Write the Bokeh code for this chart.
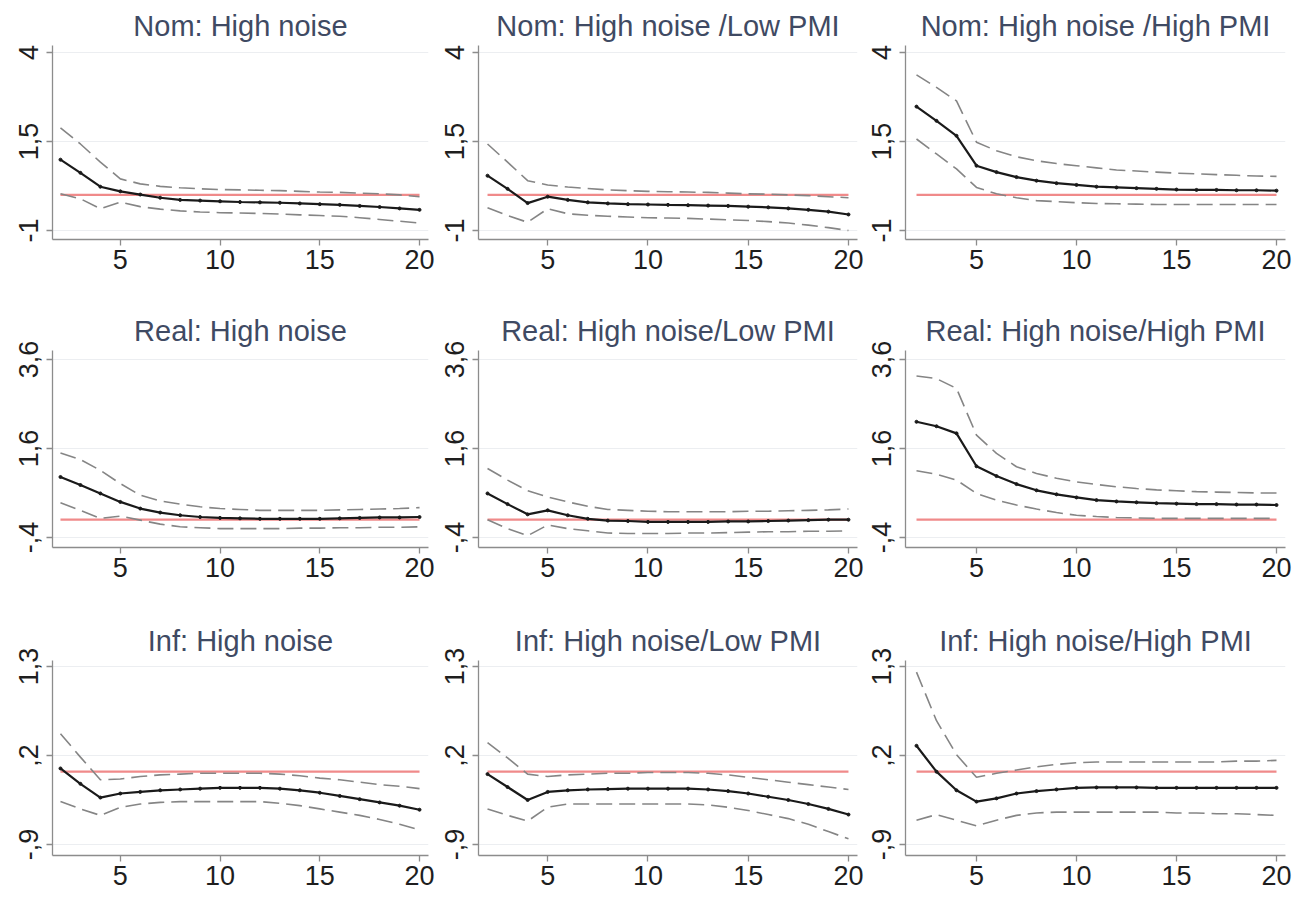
from bokeh.plotting import figure
from bokeh.layouts import row, column
from bokeh.models import Range1d, FixedTicker
from bokeh.embed import file_html
from bokeh.resources import INLINE

# ---------------- data ----------------
X = list(range(2, 21))
REF = 0.0

TITLES = [
    ["Nom: High noise", "Nom: High noise /Low PMI", "Nom: High noise /High PMI"],
    ["Real: High noise", "Real: High noise/Low PMI", "Real: High noise/High PMI"],
    ["Inf: High noise", "Inf: High noise/Low PMI", "Inf: High noise/High PMI"],
]

Y_TICKS = [[-1, 1.5, 4], [-0.4, 1.6, 3.6], [-0.9, 0.2, 1.3]]
Y_LABELS = [["-1", "1,5", "4"], ["-,4", "1,6", "3,6"], ["-,9", ",2", "1,3"]]
X_TICKS = [5, 10, 15, 20]

# Nominal
nom_hn_mean = [0.99, 0.62, 0.23, 0.10, 0.01, -0.08, -0.14, -0.16, -0.18, -0.20, -0.21, -0.22, -0.24, -0.26, -0.28, -0.31, -0.34, -0.38, -0.42]
nom_hn_up = [1.88, 1.43, 0.92, 0.45, 0.31, 0.24, 0.20, 0.17, 0.15, 0.14, 0.13, 0.12, 0.10, 0.08, 0.07, 0.05, 0.03, 0.00, -0.05]
nom_hn_lo = [0.03, -0.11, -0.39, -0.20, -0.33, -0.40, -0.45, -0.48, -0.50, -0.51, -0.52, -0.54, -0.56, -0.58, -0.60, -0.64, -0.69, -0.74, -0.79]

nom_low_mean = [0.54, 0.17, -0.23, -0.05, -0.14, -0.21, -0.24, -0.26, -0.27, -0.28, -0.29, -0.30, -0.31, -0.33, -0.35, -0.38, -0.42, -0.47, -0.55]
nom_low_up = [1.43, 0.92, 0.40, 0.28, 0.22, 0.18, 0.14, 0.12, 0.10, 0.09, 0.08, 0.07, 0.05, 0.03, 0.02, 0.00, -0.02, -0.05, -0.08]
nom_low_lo = [-0.36, -0.58, -0.77, -0.39, -0.53, -0.57, -0.60, -0.62, -0.64, -0.65, -0.66, -0.68, -0.70, -0.72, -0.75, -0.79, -0.85, -0.92, -1.00]

nom_high_mean = [2.48, 2.08, 1.66, 0.82, 0.64, 0.50, 0.40, 0.33, 0.28, 0.23, 0.21, 0.19, 0.17, 0.15, 0.14, 0.14, 0.13, 0.13, 0.12]
nom_high_up = [3.37, 3.02, 2.64, 1.48, 1.24, 1.07, 0.96, 0.88, 0.82, 0.76, 0.70, 0.67, 0.64, 0.61, 0.59, 0.57, 0.55, 0.53, 0.52]
nom_high_lo = [1.57, 1.15, 0.73, 0.21, 0.03, -0.08, -0.16, -0.19, -0.22, -0.24, -0.25, -0.26, -0.27, -0.27, -0.27, -0.27, -0.27, -0.27, -0.27]

# Real
real_hn_mean = [0.96, 0.78, 0.59, 0.40, 0.25, 0.16, 0.10, 0.06, 0.04, 0.03, 0.02, 0.02, 0.02, 0.02, 0.03, 0.04, 0.05, 0.05, 0.06]
real_hn_up = [1.50, 1.35, 1.11, 0.81, 0.55, 0.42, 0.35, 0.29, 0.25, 0.23, 0.21, 0.21, 0.21, 0.21, 0.22, 0.23, 0.24, 0.25, 0.27]
real_hn_lo = [0.38, 0.21, 0.03, 0.08, -0.01, -0.10, -0.16, -0.18, -0.20, -0.20, -0.20, -0.20, -0.19, -0.19, -0.18, -0.18, -0.17, -0.17, -0.16]

real_low_mean = [0.59, 0.35, 0.12, 0.21, 0.10, 0.02, -0.02, -0.03, -0.05, -0.05, -0.05, -0.05, -0.04, -0.04, -0.03, -0.02, -0.01, 0.00, 0.00]
real_low_up = [1.15, 0.89, 0.65, 0.51, 0.40, 0.30, 0.23, 0.21, 0.19, 0.18, 0.18, 0.18, 0.18, 0.19, 0.19, 0.20, 0.21, 0.22, 0.24]
real_low_lo = [0.00, -0.20, -0.36, -0.12, -0.20, -0.25, -0.30, -0.31, -0.31, -0.31, -0.30, -0.30, -0.29, -0.28, -0.27, -0.27, -0.26, -0.26, -0.25]

real_high_mean = [2.20, 2.10, 1.94, 1.20, 0.98, 0.80, 0.66, 0.57, 0.50, 0.44, 0.41, 0.39, 0.37, 0.36, 0.35, 0.35, 0.34, 0.34, 0.33]
real_high_up = [3.23, 3.17, 2.95, 1.90, 1.49, 1.19, 1.04, 0.93, 0.85, 0.79, 0.74, 0.70, 0.67, 0.65, 0.63, 0.62, 0.61, 0.60, 0.60]
real_high_lo = [1.10, 1.02, 0.89, 0.59, 0.44, 0.33, 0.24, 0.16, 0.10, 0.07, 0.05, 0.04, 0.03, 0.03, 0.03, 0.03, 0.03, 0.03, 0.03]

# Inflation
inf_hn_mean = [0.04, -0.15, -0.32, -0.27, -0.25, -0.23, -0.22, -0.21, -0.20, -0.20, -0.20, -0.21, -0.23, -0.26, -0.30, -0.34, -0.38, -0.42, -0.47]
inf_hn_up = [0.47, 0.18, -0.10, -0.09, -0.06, -0.04, -0.03, -0.02, -0.02, -0.02, -0.02, -0.03, -0.05, -0.08, -0.10, -0.13, -0.16, -0.18, -0.21]
inf_hn_lo = [-0.37, -0.46, -0.54, -0.44, -0.40, -0.38, -0.37, -0.37, -0.37, -0.37, -0.37, -0.39, -0.42, -0.46, -0.50, -0.54, -0.59, -0.65, -0.72]

inf_low_mean = [-0.03, -0.19, -0.35, -0.25, -0.23, -0.22, -0.215, -0.21, -0.21, -0.21, -0.21, -0.22, -0.24, -0.27, -0.31, -0.35, -0.40, -0.46, -0.53]
inf_low_up = [0.36, 0.17, -0.03, -0.06, -0.04, -0.03, -0.02, -0.02, -0.01, -0.01, -0.01, -0.02, -0.04, -0.07, -0.10, -0.13, -0.16, -0.19, -0.22]
inf_low_lo = [-0.46, -0.54, -0.61, -0.44, -0.40, -0.40, -0.40, -0.40, -0.40, -0.40, -0.40, -0.41, -0.44, -0.48, -0.53, -0.58, -0.65, -0.74, -0.83]

inf_high_mean = [0.32, 0.00, -0.23, -0.37, -0.33, -0.27, -0.24, -0.22, -0.20, -0.195, -0.195, -0.195, -0.20, -0.20, -0.20, -0.20, -0.20, -0.20, -0.20]
inf_high_up = [1.23, 0.63, 0.21, -0.07, -0.02, 0.02, 0.06, 0.09, 0.11, 0.12, 0.12, 0.12, 0.12, 0.12, 0.12, 0.12, 0.13, 0.13, 0.14]
inf_high_lo = [-0.60, -0.53, -0.60, -0.67, -0.60, -0.54, -0.51, -0.50, -0.50, -0.50, -0.50, -0.50, -0.50, -0.51, -0.51, -0.52, -0.52, -0.53, -0.54]

SERIES = [
    [(nom_hn_mean, nom_hn_up, nom_hn_lo), (nom_low_mean, nom_low_up, nom_low_lo), (nom_high_mean, nom_high_up, nom_high_lo)],
    [(real_hn_mean, real_hn_up, real_hn_lo), (real_low_mean, real_low_up, real_low_lo), (real_high_mean, real_high_up, real_high_lo)],
    [(inf_hn_mean, inf_hn_up, inf_hn_lo), (inf_low_mean, inf_low_up, inf_low_lo), (inf_high_mean, inf_high_up, inf_high_lo)],
]

# ---------------- layout / style ----------------
FONT = "Liberation Sans"
COL_W = [436, 430, 436]
COL_BL = [52, 42, 39]
COL_BR = [8, 9, 17]
COL_X = [(1.6, 20.45), (1.55, 20.45), (1.45, 20.45)]
ROW_H = [300, 308, 291]
ROW_BT = [45, 50, 52]
ROW_BB = [61, 61, 44]
ROW_Y = [(-1.253, 4.197), (-0.625, 3.802), (-1.036, 1.374)]

AXIS_COL = "#8c8c8c"
TITLE_COL = "#3f4a63"

rows = []
for r in range(3):
    figs = []
    for c in range(3):
        mean, up, lo = SERIES[r][c]
        p = figure(width=COL_W[c], height=ROW_H[r], output_backend="svg",
                   toolbar_location=None, tools="",
                   x_range=Range1d(*COL_X[c]), y_range=Range1d(*ROW_Y[r]),
                   min_border_left=COL_BL[c], min_border_right=COL_BR[c],
                   min_border_top=ROW_BT[r], min_border_bottom=ROW_BB[r])
        p.outline_line_color = None
        p.background_fill_color = "white"
        p.border_fill_color = "white"

        p.title.text = TITLES[r][c]
        p.title.align = "center"
        p.title.text_font = FONT
        p.title.text_font_size = "29px"
        p.title.text_font_style = "normal"
        p.title.text_color = TITLE_COL
        p.title.standoff = 7

        p.xgrid.visible = False
        p.ygrid.ticker = FixedTicker(ticks=Y_TICKS[r])
        p.ygrid.grid_line_color = "#eceef1"
        p.ygrid.grid_line_width = 1

        p.xaxis.ticker = FixedTicker(ticks=X_TICKS)
        p.yaxis.ticker = FixedTicker(ticks=Y_TICKS[r])
        p.yaxis.major_label_overrides = {t: l for t, l in zip(Y_TICKS[r], Y_LABELS[r])}
        p.yaxis.major_label_orientation = "vertical"
        for ax in (p.xaxis, p.yaxis):
            ax.axis_line_color = AXIS_COL
            ax.axis_line_width = 1.3
            ax.major_tick_line_color = AXIS_COL
            ax.major_tick_line_width = 1.3
            ax.major_tick_out = 6
            ax.major_tick_in = 0
            ax.minor_tick_line_color = None
            ax.major_label_text_font = FONT
            ax.major_label_text_font_size = "27px"
            ax.major_label_text_color = "#1e1e1e"
        p.xaxis.major_label_standoff = 4
        p.yaxis.major_label_standoff = 8

        p.line(X, [REF] * len(X), line_color="#f08a8a", line_width=2.2)
        p.line(X, up, line_color="#858585", line_width=1.6, line_dash="16 7")
        p.line(X, lo, line_color="#858585", line_width=1.6, line_dash="16 7")
        p.line(X, mean, line_color="#1a1a1a", line_width=2.2)
        p.scatter(X, mean, size=3, color="#1a1a1a")
        figs.append(p)
    rows.append(row(*figs))

layout = column(*rows)
open("out.html", "w").write(file_html(layout, INLINE))
